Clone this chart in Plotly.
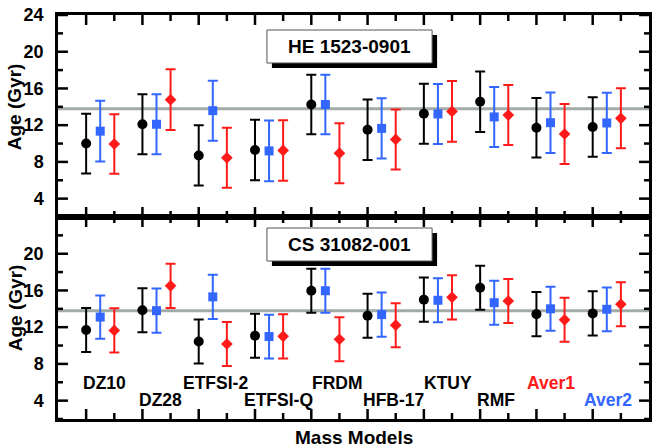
import plotly.graph_objects as go

# ---------------- data ----------------
models = ["DZ10", "DZ28", "ETFSI-2", "ETFSI-Q", "FRDM", "HFB-17", "KTUY", "RMF", "Aver1", "Aver2"]
model_label_colors = ["black"] * 8 + ["#ff1a1a", "#3366ff"]

star_top = "HE 1523-0901"
star_bot = "CS 31082-001"

reference_age = 13.8  # horizontal gray line

# HE 1523-0901
he_black = [10.0, 12.1, 8.7, 9.3, 14.25, 11.5, 13.25, 14.55, 11.72, 11.8]
he_black_err = [3.25, 3.27, 3.28, 3.3, 3.25, 3.3, 3.27, 3.3, 3.25, 3.25]
he_blue = [11.35, 12.1, 13.58, 9.2, 14.25, 11.65, 13.22, 12.9, 12.27, 12.24]
he_blue_err = [3.3, 3.27, 3.27, 3.3, 3.25, 3.27, 3.27, 3.27, 3.3, 3.28]
he_red = [9.95, 14.78, 8.45, 9.25, 8.95, 10.45, 13.5, 13.1, 11.04, 12.75]
he_red_err = [3.25, 3.3, 3.27, 3.3, 3.27, 3.27, 3.3, 3.27, 3.27, 3.27]

# CS 31082-001
cs_black = [11.7, 13.85, 10.44, 11.06, 15.97, 13.25, 15.0, 16.3, 13.42, 13.5]
cs_black_err = [2.4, 2.4, 2.4, 2.4, 2.4, 2.4, 2.4, 2.4, 2.4, 2.4]
cs_blue = [13.1, 13.8, 15.3, 10.98, 15.97, 13.37, 14.93, 14.67, 14.0, 13.95]
cs_blue_err = [2.36, 2.4, 2.4, 2.38, 2.4, 2.4, 2.4, 2.4, 2.4, 2.38]
cs_red = [11.65, 16.5, 10.17, 11.0, 10.68, 12.22, 15.25, 14.85, 12.8, 14.5]
cs_red_err = [2.4, 2.4, 2.4, 2.4, 2.4, 2.4, 2.4, 2.4, 2.4, 2.4]

yticks_top = [4, 8, 12, 16, 20, 24]
yticks_bot = [4, 8, 12, 16, 20]

# ---------------- layout helpers ----------------
W, H = 654, 448
ML, MR, MT, MB = 58, 2, 15, 29
PW, PH = W - ML - MR, H - MT - MB
PANEL_H = PH / 2

BLACK = "#000000"
BLUE = "#3366ff"
RED = "#ff1a1a"
GRAY = "#a3aba7"
FONT = "Liberation Sans, Arial, sans-serif"

X_RANGE = [0.5, 11.0]
Y_RANGE = [2, 24]

pos = list(range(1, len(models) + 1))
off_blue, off_red = 0.25, 0.5

fig = go.Figure()

# reference line (drawn first so it sits under the markers)
for xa, ya in [("x", "y"), ("x2", "y2")]:
    fig.add_trace(go.Scatter(
        x=X_RANGE, y=[reference_age, reference_age], mode="lines", xaxis=xa, yaxis=ya,
        line=dict(color=GRAY, width=3), showlegend=False, hoverinfo="skip",
    ))

def add_series(xs, ys, errs, color, symbol, size, xa, ya):
    fig.add_trace(go.Scatter(
        x=xs, y=ys, mode="markers", xaxis=xa, yaxis=ya,
        marker=dict(symbol=symbol, size=size, color=color, line=dict(width=0)),
        error_y=dict(type="data", array=errs, color=color, thickness=2, width=5),
        showlegend=False,
    ))

for xa, ya, blk, blke, blu, blue_e, rd, rde in [
    ("x", "y", he_black, he_black_err, he_blue, he_blue_err, he_red, he_red_err),
    ("x2", "y2", cs_black, cs_black_err, cs_blue, cs_blue_err, cs_red, cs_red_err),
]:
    add_series(pos, blk, blke, BLACK, "circle", 10, xa, ya)
    add_series([p + off_blue for p in pos], blu, blue_e, BLUE, "square", 9, xa, ya)
    add_series([p + off_red for p in pos], rd, rde, RED, "diamond", 9, xa, ya)

# inward tick marks on all four sides of each panel, drawn as line traces
ux = (X_RANGE[1] - X_RANGE[0]) / PW          # x data units per pixel
uy = (Y_RANGE[1] - Y_RANGE[0]) / PANEL_H     # y data units per pixel
y_major = list(range(4, 25, 4))
y_minor = [v for v in range(Y_RANGE[0], Y_RANGE[1] + 1, 2) if v % 4 != 0]
x_major = pos
x_minor = [p + 0.5 for p in pos]

for xa, ya in [("x", "y"), ("x2", "y2")]:
    tx, ty = [], []
    for vals, ln in [(y_major, 10), (y_minor, 5)]:
        for v in vals:
            tx += [X_RANGE[0], X_RANGE[0] + ln * ux, None,
                   X_RANGE[1] - ln * ux, X_RANGE[1], None]
            ty += [v, v, None, v, v, None]
    for vals, ln in [(x_major, 10), (x_minor, 6)]:
        for v in vals:
            tx += [v, v, None, v, v, None]
            ty += [Y_RANGE[0], Y_RANGE[0] + ln * uy, None,
                   Y_RANGE[1] - ln * uy, Y_RANGE[1], None]
    fig.add_trace(go.Scatter(x=tx, y=ty, mode="lines", xaxis=xa, yaxis=ya,
                             line=dict(color="black", width=2.5),
                             showlegend=False, hoverinfo="skip", connectgaps=False))

frame = dict(showline=True, linecolor="black", linewidth=2.5, mirror=True,
             ticks="", showgrid=False, zeroline=False)

xcommon = dict(frame, range=X_RANGE, showticklabels=False)
ycommon = dict(frame, range=Y_RANGE,
               tickfont=dict(family=FONT, size=18, color="black", weight="bold"),
               ticklabelstandoff=8)

fig.update_layout(
    width=W, height=H,
    margin=dict(l=ML, r=MR, t=MT, b=MB),
    paper_bgcolor="white", plot_bgcolor="white",
    xaxis=dict(xcommon, domain=[0, 1], anchor="y"),
    yaxis=dict(ycommon, domain=[0.5, 1], anchor="x", tickmode="array",
               tickvals=yticks_top, ticktext=[str(v) for v in yticks_top]),
    xaxis2=dict(xcommon, domain=[0, 1], anchor="y2"),
    yaxis2=dict(ycommon, domain=[0, 0.5], anchor="x2", tickmode="array",
                tickvals=yticks_bot, ticktext=[str(v) for v in yticks_bot]),
)

# title boxes with shadow
def px2x(px):
    return (px - ML) / PW

def px2y(py):
    return 1 - (py - MT) / PH

for name, (bx0, by0, bx1, by1) in [(star_top, (268, 30, 434, 63)),
                                   (star_bot, (268, 228, 434, 261))]:
    sh = 5
    fig.add_shape(type="rect", xref="paper", yref="paper",
                  x0=px2x(bx0 + sh), x1=px2x(bx1 + sh), y0=px2y(by1 + sh), y1=px2y(by0 + sh),
                  fillcolor="black", line=dict(width=0), layer="above")
    fig.add_shape(type="rect", xref="paper", yref="paper",
                  x0=px2x(bx0), x1=px2x(bx1), y0=px2y(by1), y1=px2y(by0),
                  fillcolor="white", line=dict(color="#555555", width=1), layer="above")
    fig.add_annotation(xref="paper", yref="paper",
                       x=px2x((bx0 + bx1) / 2), y=px2y((by0 + by1) / 2),
                       text=name, showarrow=False, xanchor="center", yanchor="middle",
                       font=dict(family=FONT, size=19, color="black", weight="bold"))

# model labels in the lower panel
label_dx = [0.33, 0.32, 0.30, 0.42, 0.47, 0.46, 0.42, 0.28, 0.25, 0.28]
label_y = [5.9, 4.1]
for i, (m, c) in enumerate(zip(models, model_label_colors)):
    fig.add_annotation(xref="x2", yref="y2", x=pos[i] + label_dx[i], y=label_y[i % 2],
                       text=m, showarrow=False, xanchor="center", yanchor="middle",
                       font=dict(family=FONT, size=17.5, color=c, weight="bold"))

# axis titles
for yc in [107, 308]:
    fig.add_annotation(xref="paper", yref="paper", x=px2x(15), y=px2y(yc),
                       text="Age (Gyr)", textangle=-90, showarrow=False,
                       xanchor="center", yanchor="middle",
                       font=dict(family=FONT, size=19, color="black", weight="bold"))
fig.add_annotation(xref="paper", yref="paper", x=px2x(355.5), y=px2y(437),
                   text="Mass Models", showarrow=False, xanchor="center", yanchor="middle",
                   font=dict(family=FONT, size=19, color="black", weight="bold"))

fig.write_html(
    "out.html",
    config={"displayModeBar": False},
    post_script="document.body.style.margin='0';document.body.style.overflow='hidden';",
)
